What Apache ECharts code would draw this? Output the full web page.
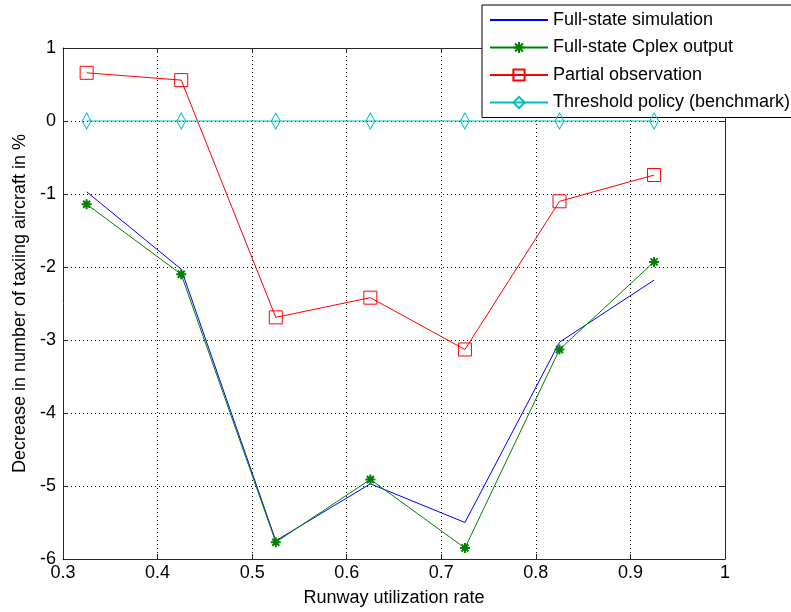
<!DOCTYPE html>
<html>
<head>
<meta charset="utf-8">
<script src="https://cdn.jsdelivr.net/npm/echarts@6/dist/echarts.min.js"></script>
<style>html,body{margin:0;padding:0;background:#fff;}#c{width:791px;height:612px;}</style>
</head>
<body>
<div id="c"></div>
<script>
const xValues = [0.325, 0.425, 0.525, 0.625, 0.725, 0.825, 0.925];
const fullStateSim = [-0.97, -2.03, -5.75, -4.97, -5.50, -3.03, -2.18];
const fullStateCplex = [-1.14, -2.10, -5.77, -4.91, -5.85, -3.13, -1.93];
const partialObs = [0.66, 0.56, -2.69, -2.42, -3.13, -1.10, -0.74];
const thresholdPolicy = [0, 0, 0, 0, 0, 0, 0];
const seriesNames = ['Full-state simulation', 'Full-state Cplex output', 'Partial observation', 'Threshold policy (benchmark)'];
const xTicks = { min: 0.3, max: 1, interval: 0.1 };
const yTicks = { min: -6, max: 1, interval: 1 };

const pair = arr => arr.map((v, i) => [xValues[i], v]);
const font = 'Liberation Sans, Arial, sans-serif';
const axisColor = '#262626';
const star = 'path://M0,-10L0,10M-10,0L10,0M-7,-7L7,7M-7,7L7,-7';

const chart = echarts.init(document.getElementById('c'), null, { renderer: 'canvas' });
const baseX = {
  type: 'value', min: xTicks.min, max: xTicks.max, interval: xTicks.interval,
  axisLine: { show: true, onZero: false, lineStyle: { color: axisColor, width: 1 } },
  axisTick: { show: true, inside: true, length: 5, lineStyle: { color: axisColor } },
};
const baseY = {
  type: 'value', min: yTicks.min, max: yTicks.max, interval: yTicks.interval,
  axisLine: { show: true, onZero: false, lineStyle: { color: axisColor, width: 1 } },
  axisTick: { show: true, inside: true, length: 5, lineStyle: { color: axisColor } },
};
chart.setOption({
  animation: false,
  backgroundColor: '#fff',
  grid: { left: 63, right: 66, top: 48, bottom: 53 },
  legend: {
    orient: 'vertical', left: 482, top: 5,
    backgroundColor: '#fff', borderColor: '#000', borderWidth: 1,
    padding: [6, 2, 6, 7],
    itemWidth: 58, itemHeight: 14, itemGap: 9.5,
    textStyle: { fontFamily: font, fontSize: 18, color: '#000' },
    data: [
      { name: seriesNames[0], itemStyle: { opacity: 0 } },
      { name: seriesNames[1] },
      { name: seriesNames[2] },
      { name: seriesNames[3] }
    ]
  },
  xAxis: [
    Object.assign({}, baseX, {
      position: 'bottom',
      name: 'Runway utilization rate', nameLocation: 'middle', nameGap: 30,
      nameTextStyle: { fontFamily: font, fontSize: 18, color: '#000' },
      axisLabel: { fontFamily: font, fontSize: 18, color: '#000', margin: 5,
        formatter: v => String(Math.round(v * 10) / 10) },
      splitLine: { show: true, lineStyle: { color: '#000', type: [1, 3], width: 1 } }
    }),
    Object.assign({}, baseX, { position: 'top', axisLabel: { show: false }, splitLine: { show: false } })
  ],
  yAxis: [
    Object.assign({}, baseY, {
      position: 'left',
      name: 'Decrease in number of taxiing aircraft in %', nameLocation: 'middle', nameGap: 32,
      nameTextStyle: { fontFamily: font, fontSize: 18, color: '#000' },
      axisLabel: { fontFamily: font, fontSize: 18, color: '#000', margin: 7 },
      splitLine: { show: true, lineStyle: { color: '#000', type: [1, 3], width: 1 } }
    }),
    Object.assign({}, baseY, { position: 'right', axisLabel: { show: false }, splitLine: { show: false } })
  ],
  series: [
    { name: seriesNames[0], type: 'line', data: pair(fullStateSim), symbol: 'none',
      lineStyle: { color: '#0000ff', width: 1 }, itemStyle: { color: '#0000ff' }, z: 3 },
    { name: seriesNames[1], type: 'line', data: pair(fullStateCplex), symbol: star, symbolSize: 10,
      showAllSymbol: true,
      lineStyle: { color: '#008000', width: 1 },
      itemStyle: { color: 'rgba(0,0,0,0)', borderColor: '#008000', borderWidth: 2 }, z: 4 },
    { name: seriesNames[2], type: 'line', data: pair(partialObs), symbol: 'rect', symbolSize: 13,
      lineStyle: { color: '#ff0000', width: 1 },
      itemStyle: { color: 'rgba(0,0,0,0)', borderColor: '#ff0000', borderWidth: 1 }, z: 5 },
    { name: seriesNames[3], type: 'line', data: pair(thresholdPolicy), symbol: 'diamond', symbolSize: [9, 16],
      lineStyle: { color: '#00bfbf', width: 1.2 },
      itemStyle: { color: 'rgba(0,0,0,0)', borderColor: '#00bfbf', borderWidth: 1 }, z: 6 }
  ]
});
</script>
</body>
</html>
